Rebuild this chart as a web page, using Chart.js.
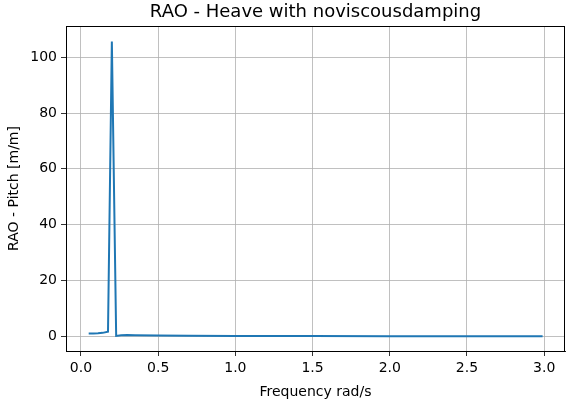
<!DOCTYPE html>
<html>
<head>
<meta charset="utf-8">
<script src="https://cdn.jsdelivr.net/npm/chart.js@4"></script>
<style>
  html, body { margin: 0; padding: 0; background: #fff; }
  #wrap { width: 566px; height: 409px; }
</style>
</head>
<body>
<div id="wrap"><canvas id="raoChart" width="566" height="409"></canvas></div>
<script>
// frequency (rad/s) and RAO
const freq = [0.05, 0.08, 0.11, 0.14, 0.175, 0.2, 0.228, 0.26, 0.3, 0.35, 0.5, 0.7, 1.0, 1.5, 2.0, 2.5, 2.99];
const rao  = [0.95, 1.0, 1.05, 1.2, 1.6, 105.6, 0.1, 0.35, 0.4, 0.35, 0.25, 0.15, 0.08, 0.04, 0.02, 0.01, 0.0];
const xTicks = [0.0, 0.5, 1.0, 1.5, 2.0, 2.5, 3.0];
const yTicks = [0, 20, 40, 60, 80, 100];

const FONT = "'DejaVu Sans', sans-serif";

const points = freq.map((f, i) => ({ x: f, y: rao[i] }));

const frameAndTitle = {
  id: 'frameAndTitle',
  afterDraw(chart) {
    const { ctx, chartArea: a } = chart;
    ctx.save();
    ctx.strokeStyle = '#000';
    ctx.lineWidth = 1;
    ctx.strokeRect(Math.round(a.left) + 0.5, Math.round(a.top) + 0.5,
                   Math.round(a.right - a.left) - 1, Math.round(a.bottom - a.top));
    ctx.fillStyle = '#000';
    ctx.font = '18px ' + FONT;
    ctx.textAlign = 'center';
    ctx.textBaseline = 'middle';
    ctx.fillText('RAO - Heave with noviscousdamping', (a.left + a.right) / 2, 12);
    ctx.restore();
  }
};

new Chart(document.getElementById('raoChart'), {
  type: 'line',
  data: {
    datasets: [{
      data: points,
      borderColor: '#1f77b4',
      borderWidth: 2,
      pointRadius: 0,
      tension: 0,
      fill: false
    }]
  },
  options: {
    responsive: false,
    animation: false,
    layout: { padding: { top: 26, right: 1, left: 0, bottom: 0 } },
    plugins: { legend: { display: false }, tooltip: { enabled: false } },
    scales: {
      x: {
        type: 'linear',
        min: -0.097,
        max: 3.135,
        afterBuildTicks: s => { s.ticks = xTicks.map(v => ({ value: v })); },
        afterFit: s => { s.height = 58; },
        ticks: {
          color: '#000',
          font: { family: FONT, size: 14 },
          padding: 4,
          maxRotation: 0,
          callback: v => Number(v).toFixed(1)
        },
        grid: { color: '#b0b0b0', lineWidth: 0.8, tickColor: '#000', tickLength: 5 },
        border: { color: '#000' },
        title: { display: true, text: 'Frequency rad/s', color: '#000', font: { family: FONT, size: 14 }, padding: { top: 2, bottom: 8 } }
      },
      y: {
        min: -5.3,
        max: 111.2,
        afterBuildTicks: s => { s.ticks = yTicks.map(v => ({ value: v })); },
        afterFit: s => { s.width = 66; },
        ticks: {
          color: '#000',
          font: { family: FONT, size: 14 },
          padding: 4
        },
        grid: { color: '#b0b0b0', lineWidth: 0.8, tickColor: '#000', tickLength: 5 },
        border: { color: '#000' },
        title: { display: true, text: 'RAO - Pitch [m/m]', color: '#000', font: { family: FONT, size: 14 }, padding: { top: 6, bottom: 0 } }
      }
    }
  },
  plugins: [frameAndTitle]
});
</script>
</body>
</html>
